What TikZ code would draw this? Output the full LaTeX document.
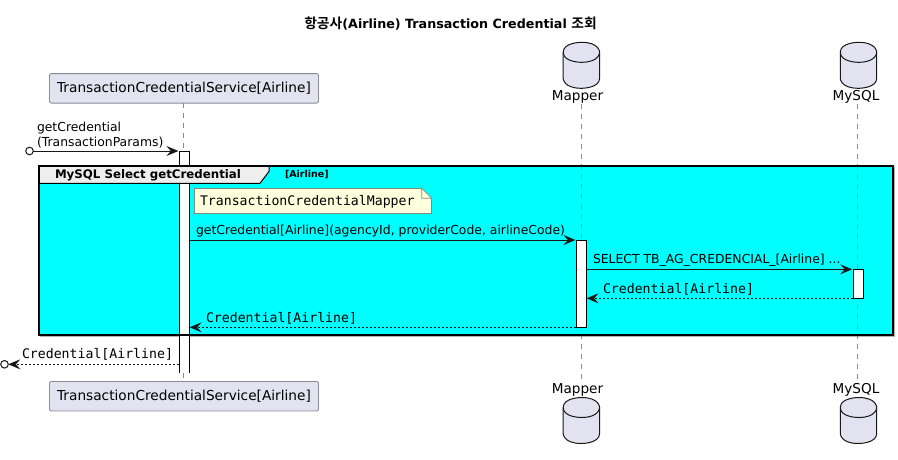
\documentclass[tikz,border=0pt]{standalone}
\usepackage{fontspec}
\usetikzlibrary{arrows.meta,calc}
\setmainfont{DejaVu Sans}
\setmonofont{DejaVu Sans Mono}
\newfontfamily\krfont{Noto Sans CJK KR}[BoldFont={Noto Sans CJK KR Bold}]
\definecolor{actorfill}{HTML}{E2E2F0}
\definecolor{actorline}{HTML}{8A8A96}
\definecolor{notefill}{HTML}{FEFFDD}
\definecolor{notedraw}{HTML}{7F8C80}
\definecolor{ink}{HTML}{181818}
\definecolor{tabfill}{HTML}{EEEEEE}
\definecolor{grpfill}{RGB}{0,255,255}
\tikzset{
  x=1pt,y=-1pt,
  every node/.style={inner sep=0pt,outer sep=0pt,text=black},
  actorbox/.style={draw=actorline,line width=0.9pt,fill=actorfill,rounded corners=2pt,minimum width=269pt,minimum height=29.5pt,font=\fontsize{13.7}{16}\selectfont},
  dbline/.style={draw=ink,line width=1pt,fill=actorfill},
  dblabel/.style={font=\fontsize{13.6}{16}\selectfont},
  lifeline/.style={draw=actorline,line width=0.8pt,dash pattern=on 5pt off 5pt},
  bar/.style={draw=black,line width=1pt,fill=white,minimum width=10.2pt},
  msg/.style={draw=ink,line width=1pt,-{Stealth[length=12pt,width=10pt,inset=4.5pt,fill=ink]}},
  ret/.style={draw=ink,line width=0.9pt,dash pattern=on 2pt off 2pt,-{Stealth[length=12pt,width=10pt,inset=4.5pt,fill=ink]}},
  endpoint/.style={circle,draw=ink,line width=1pt,fill=white,minimum size=7.6pt},
  msglabel/.style={anchor=west,font=\fontsize{12.4}{15}\selectfont},
  monolabel/.style={anchor=west,font=\ttfamily\fontsize{13.2}{15}\selectfont},
}
% database cylinder: name, left x, top y (36.4 wide, 46 high)
\newcommand{\dbcyl}[3]{%
  \path[dbline] (#2,#3+10) .. controls (#2,#3) and (#2+18.2,#3) .. (#2+18.2,#3)
    .. controls (#2+36.4,#3) and (#2+36.4,#3+10) .. (#2+36.4,#3+10)
    -- (#2+36.4,#3+36) .. controls (#2+36.4,#3+46) and (#2+18.2,#3+46) .. (#2+18.2,#3+46)
    .. controls (#2,#3+46) and (#2,#3+36) .. (#2,#3+36) -- cycle;
  \draw[draw=ink,line width=1pt] (#2,#3+10) .. controls (#2,#3+20) and (#2+18.2,#3+20) .. (#2+18.2,#3+20)
    .. controls (#2+36.4,#3+20) and (#2+36.4,#3+10) .. (#2+36.4,#3+10);
  \node[minimum width=36.4pt,minimum height=46pt,anchor=north west] (#1) at (#2,#3) {};
}
\begin{document}
\begin{tikzpicture}
\useasboundingbox (0,0) rectangle (898,459);
% title
\node (title) at (450.5,23.5) {\bfseries\fontsize{12.7}{15}\selectfont{\krfont\fontsize{13.8}{15}\selectfont 항공사}(Airline) Transaction Credential {\krfont\fontsize{13.8}{15}\selectfont 조회}};
% group background
\fill[black!30] (40,167) rectangle (894.5,336.5);
\node[fill=grpfill,minimum width=854pt,minimum height=169pt,anchor=north west] (grp) at (39,166) {};
% participants
\node[actorbox] (svcT) at (184,88.3) {TransactionCredentialService[Airline]};
\node[actorbox] (svcB) at (184,396.2) {TransactionCredentialService[Airline]};
\dbcyl{mapT}{563.2}{42.3}
\dbcyl{mapB}{563.2}{397.5}
\dbcyl{sqlT}{840.3}{42.3}
\dbcyl{sqlB}{840.3}{397.5}
\node[dblabel] (mapTL) at (577.5,97) {Mapper};
\node[dblabel] (mapBL) at (577.5,390) {Mapper};
\node[dblabel] (sqlTL) at (856,97) {MySQL};
\node[dblabel] (sqlBL) at (856,390) {MySQL};
\coordinate (svcTop) at (183.3,103);
\coordinate (svcBot) at (183.3,381);
\coordinate (mapTop) at (581.3,104);
\coordinate (mapBot) at (581.3,380);
\coordinate (sqlTop) at (857.7,104);
\coordinate (sqlBot) at (857.7,380);
\draw[lifeline] (svcTop) -- (svcBot);
\draw[lifeline] (mapTop) -- (mapBot);
\draw[lifeline] (sqlTop) -- (sqlBot);
% activation bars (the long one is open at its lower end)
\node[fill=white,minimum width=10.2pt,minimum height=221.5pt,anchor=north] (barS) at (184.5,151) {};
\draw[black,line width=1pt] (barS.south west) -- (barS.north west) -- (barS.north east) -- (barS.south east);
\node[bar,minimum height=87.3pt,anchor=north] (barM) at (581.5,240) {};
\node[bar,minimum height=29pt,anchor=north] (barQ) at (858.3,269.3) {};
% group frame and tab
\draw[black,line width=2pt] (grp.north west) rectangle (grp.south east);
\path[draw=black,line width=1pt,fill=tabfill] (39,166) -- (269,166) -- (269,171.5) -- (260,183.3) -- (39,183.3) -- cycle;
\draw[black,line width=2pt] (grp.north west) -- (grp.north east);
\draw[black,line width=2pt] (grp.north west) -- (grp.south west);
\node[anchor=west,font=\bfseries\fontsize{11.8}{14}\selectfont] (grpT) at (55,175.3) {MySQL Select getCredential};
\node[anchor=west,font=\bfseries\fontsize{9.5}{12}\selectfont] (grpC) at (285,175) {[Airline]};
% note
\node[draw=notedraw,line width=0.8pt,fill=notefill,minimum width=237.4pt,minimum height=25pt,anchor=north west] (note) at (194.3,188.3) {};
\fill[grpfill] ($(note.north east)+(-10,-0.6)$) -- ++(10.6,0) -- ++(0,10.6) -- cycle;
\draw[draw=notedraw,line width=0.8pt,fill=notefill] ($(note.north east)+(-10,0)$) -- ++(10,10) -- ++(-10,0) -- cycle;
\node[monolabel] (noteT) at (200,201.5) {TransactionCredentialMapper};
% endpoints
\node[endpoint] (ext1) at (29.5,151) {};
\node[endpoint] (ext2) at (4.5,364.3) {};
% messages
\draw[msg] (ext1.east) -- ($(barS.north west)+(-1,0)$);
\draw[msg] (barS.east |- barM.north) -- ($(barM.north west)+(-1,0)$);
\draw[msg] (barM.east |- barQ.north) -- ($(barQ.north west)+(-1,0)$);
\draw[ret] (barQ.south west) -- (barM.east |- barQ.south);
\draw[ret] (barM.south west) -- (barS.east |- barM.south);
\draw[ret] (barS.west |- ext2.east) -- (ext2.east);
% labels
\node[msglabel] (l1a) at (37,128) {getCredential};
\node[msglabel] (l1b) at (37,143) {(TransactionParams)};
\node[msglabel] (l2) at (196,231.5) {getCredential[Airline](agencyId, providerCode, airlineCode)};
\node[msglabel] (l3) at (593,260) {SELECT TB\_AG\_CREDENCIAL\_[Airline] ...};
\node[monolabel] (l4) at (603,289) {Credential[Airline]};
\node[monolabel] (l5) at (206,318) {Credential[Airline]};
\node[monolabel] (l6) at (22,354) {Credential[Airline]};
\end{tikzpicture}
\end{document}
